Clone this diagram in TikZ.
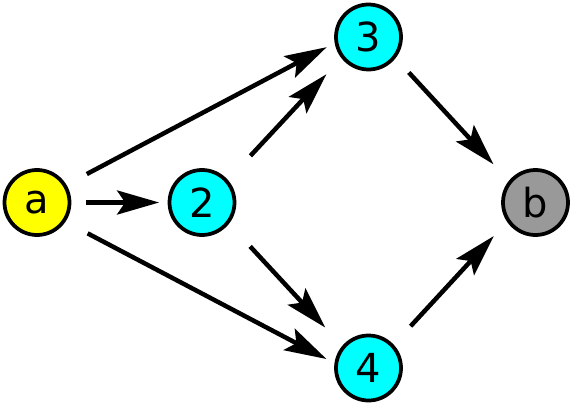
\documentclass[tikz,border=0pt]{standalone}
\usepackage{fontspec}
\setmainfont{DejaVu Sans}
\usetikzlibrary{arrows.meta}
\definecolor{srcyellow}{RGB}{255,255,0}
\definecolor{midcyan}{RGB}{0,255,255}
\definecolor{sinkgray}{RGB}{153,153,153}
\tikzset{
  font=\fontsize{40}{48}\selectfont,
  % Set arrowhead
  >={Stealth[length=42pt, width=24pt, inset=8pt]},
  % General vertex
  vnode/.style={draw, shape=circle, line width=3.75pt, minimum size=65pt,
    inner sep=0pt},
  % Source, inner and sink vertices
  snode/.style={vnode, fill=srcyellow},
  inode/.style={vnode, fill=midcyan},
  tnode/.style={vnode, fill=sinkgray},
  % Arrows
  flow/.style={->, line width=4.5pt},
}

\begin{document}
\begin{tikzpicture}[x=1pt, y=1pt]
  \useasboundingbox (0,0) rectangle (572,405);

  \node[snode] (a) at (37,202.5) {a};
  \node[inode] (two) at (202,202.5) {2};
  \node[inode] (three) at (368.5,368) {3};
  \node[inode] (four) at (368.5,37) {4};
  \node[tnode] (b) at (535.5,202.5) {b};

  \draw[flow, shorten <=15pt, shorten >=8.5pt] (a.0) -- (two.180);
  \draw[flow, shorten <=23pt, shorten >=9pt] (a.31) -- (three.190);
  \draw[flow, shorten <=25pt, shorten >=9pt] (a.-34) -- (four.172);
  \draw[flow, shorten <=33pt, shorten >=22pt] (two.41) -- (three.218);
  \draw[flow, shorten <=31pt, shorten >=25pt] (two.-38) -- (four.140);
  \draw[flow, shorten <=19.5pt, shorten >=22.5pt] (three.-38) -- (b.141);
  \draw[flow, shorten <=25pt, shorten >=19.5pt] (four.43) -- (b.214);
\end{tikzpicture}
\end{document}
